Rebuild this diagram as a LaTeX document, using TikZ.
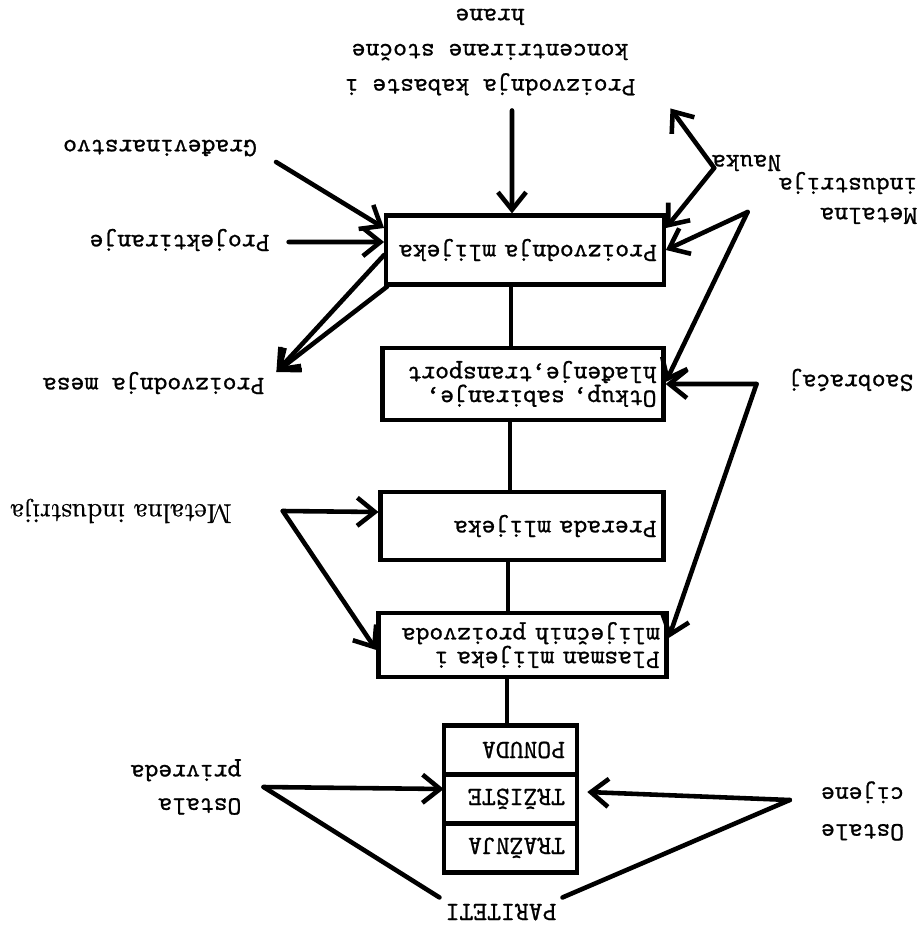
\documentclass[tikz,border=0pt]{standalone}
\usepackage{fontspec}
\usetikzlibrary{positioning,arrows.meta}

\newfontfamily\pisacafont{lmmono10-regular.otf}[FakeBold=0.9]
\newfontfamily\serifnifont{lmroman10-regular.otf}[FakeBold=0.7]
\newcommand{\pisaca}{\pisacafont\fontsize{15}{13.5}\selectfont}

\tikzset{
  blok/.style={draw, line width=2.4pt, inner xsep=4pt, align=left, font=\pisaca},
  celija/.style={draw, line width=2.4pt, outer sep=0pt, inner xsep=7pt, text width=62pt,
    minimum height=0.98cm, align=left, font=\pisaca},
  oznaka/.style={align=left, font=\pisacafont\fontsize{15}{20}\selectfont},
  strelica/.style={line width=2.6pt, line cap=round, -{Straight Barb[length=10pt,width=16pt]}},
  linija/.style={line width=2.6pt, line cap=round},
  veza/.style={line width=2.2pt}
}

\begin{document}
\begin{tikzpicture}[x=0.02cm, y=0.02cm, rotate=180, transform shape]
\useasboundingbox (0,0) rectangle (921,928);

% Boxes

\node[blok, text width=150pt, minimum height=1.38cm] (proizvodnja) at (396,250) {Proizvodnja mlijeka};
\node[blok, text width=152pt, minimum height=1.44cm] (otkup) at (398,384) {Otkup, sabiranje,\\hlađenje,transport};
\node[blok, text width=153pt, minimum height=1.36cm] (prerada) at (399,526) {Prerada mlijeka};
\node[blok, text width=156pt, minimum height=1.28cm] (plasman) at (398.5,645) {Plasman mlijeka i\\mliječnih proizvoda};

\node[celija] (ponuda) at (410.5,750) {PONUDA};
\node[celija, above=0pt of ponuda] (trziste) {TRŽIŠTE};
\node[celija, above=0pt of trziste] (traznja) {TRAŽNJA};

% Labels

\node[oznaka, align=center] (kabasta) at (431,52) {Proizvodnja kabaste i\\koncentrirane stočne\\hrane};
\node[oznaka] (gradj) at (761,148) {Građevinarstvo};
\node[oznaka] (projekt) at (741.5,240) {Projektiranje};
\node[oznaka] (mesa) at (767.5,383) {Proizvodnja mesa};
\node[font=\serifnifont\fontsize{15.5}{18}\selectfont] (metal) at (800,511) {Metalna industrija};
\node[oznaka] (metaldesno) at (73,198) {Metalna\\[-3pt]industrija};
\node[oznaka] (nauka) at (174.5,163) {Nauka};
\node[oznaka] (saobracaj) at (70,380) {Saobraćaj};
\node[oznaka] (ostala) at (735,787) {Ostala\\[-1pt]privreda};
\node[oznaka] (ostale) at (58.5,811) {Ostale\\[1pt]cijene};
\node[oznaka] (paritet) at (420,912) {PARITETI};

% Branch points

\coordinate (mvrh) at ([xshift=-0.9cm]metal.west);
\coordinate (dvrh) at ([xshift=0.5cm, yshift=0.28cm]metaldesno.east);
\coordinate (nvrh) at ([xshift=-0.17cm, yshift=0.1cm]nauka.east);
\coordinate (svrh) at ([xshift=0.52cm, yshift=0.08cm]saobracaj.east);
\coordinate (ovrh) at ([xshift=-0.32cm]ostala.west);
\coordinate (cvrh) at ([xshift=0.5cm, yshift=-0.22cm]ostale.east);

% Chain

\draw[veza] ([xshift=0.28cm]proizvodnja.north) -- ([xshift=0.24cm]otkup.south);
\draw[veza] ([xshift=0.26cm]otkup.north) -- ([xshift=0.24cm]prerada.south);
\draw[veza] ([xshift=0.28cm]prerada.north) -- ([xshift=0.29cm]plasman.south);
\draw[veza] ([xshift=0.31cm]plasman.north) -- ([xshift=0.07cm]ponuda.south);

% Arrows

\draw[strelica] ([xshift=-0.44cm, yshift=0.18cm]kabasta.north) -- ([xshift=0.26cm]proizvodnja.south);
\draw[strelica] ([xshift=-0.26cm, yshift=0.28cm]gradj.west) -- ([yshift=-0.44cm]proizvodnja.east);
\draw[strelica] ([xshift=-0.26cm, yshift=0.04cm]projekt.west) -- ([yshift=-0.16cm]proizvodnja.east);
\draw[strelica] ([yshift=0.1cm]proizvodnja.east) -- ([xshift=-0.12cm, yshift=-0.22cm]mesa.west);
\draw[strelica] ([xshift=-0.06cm]proizvodnja.north east) -- ([xshift=-0.12cm, yshift=-0.22cm]mesa.west);
\draw[strelica] (mvrh) -- ([yshift=-0.28cm]prerada.east);
\draw[strelica] (mvrh) -- ([yshift=0.1cm]plasman.east);
\draw[strelica] (dvrh) -- (proizvodnja.west);
\draw[strelica] (dvrh) -- ([yshift=-0.04cm]otkup.west);
\draw[strelica] (nvrh) -- ([yshift=-0.44cm]proizvodnja.west);
\draw[strelica] (nvrh) -- ([xshift=-0.58cm, yshift=0.14cm]kabasta.north west);
\draw[strelica] (svrh) -- (otkup.west);
\draw[strelica] (svrh) -- ([yshift=-0.14cm]plasman.west);
\draw[strelica] (ovrh) -- ([yshift=-0.2cm]trziste.east);
\draw[linija] (ovrh) -- (paritet.south east);
\draw[strelica] (cvrh) -- ([xshift=-0.2cm, yshift=-0.14cm]trziste.west);
\draw[linija] (cvrh) -- (paritet.south west);

\end{tikzpicture}
\end{document}
